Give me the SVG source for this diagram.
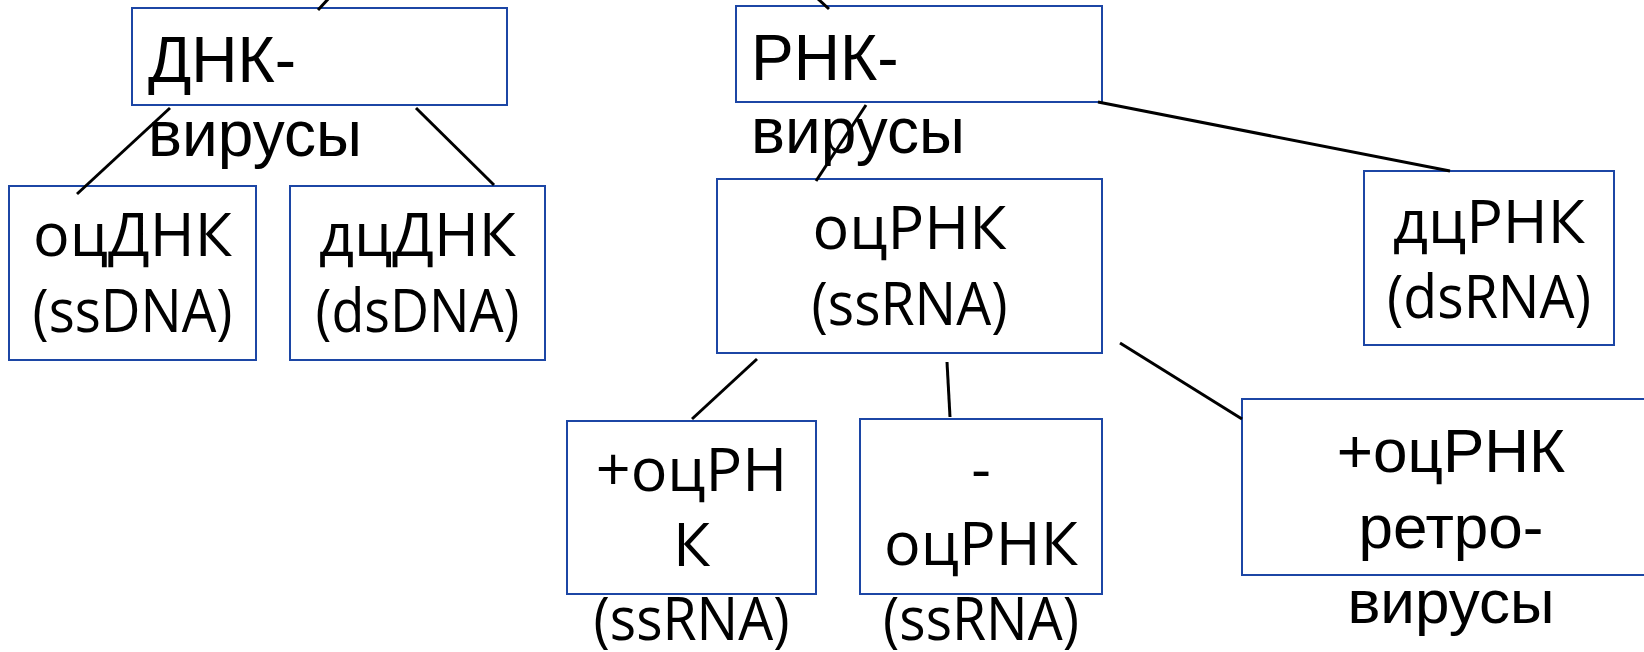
<svg xmlns="http://www.w3.org/2000/svg" width="1644" height="652" viewBox="0 0 1644 652">
<style>
.box{fill:#fff;stroke:#1c46a5;stroke-width:2}
.a{font-family:"Liberation Sans",Arial,sans-serif;font-size:62px;fill:#000}
.h{font-size:64px}
.c{font-family:"Open Sans","Noto Sans",sans-serif;font-size:61px;fill:#000;text-anchor:middle}
.m{text-anchor:middle}
.conn line{stroke:#000;stroke-width:3}
</style>
<rect width="1644" height="652" fill="#fff"/>
<g id="n-dna">
<rect class="box" x="132" y="8" width="375" height="97"/>
<text class="a h" x="148" y="82">ДНК-</text>
<text class="a h" x="148" y="156">вирусы</text>
</g>
<g id="n-ssdna">
<rect class="box" x="9" y="186" width="247" height="174"/>
<text class="c" x="132.5" y="256">оцДНК</text>
<text class="c" x="132.5" y="332" textLength="200" lengthAdjust="spacingAndGlyphs">(ssDNA)</text>
</g>
<g id="n-dsdna">
<rect class="box" x="290" y="186" width="255" height="174"/>
<text class="c" x="417.5" y="256">дцДНК</text>
<text class="c" x="417.5" y="332" textLength="204" lengthAdjust="spacingAndGlyphs">(dsDNA)</text>
</g>
<g id="n-rna">
<rect class="box" x="736" y="6" width="366" height="96"/>
<text class="a h" x="751" y="80">РНК-</text>
<text class="a h" x="751" y="153">вирусы</text>
</g>
<g id="n-ssrna">
<rect class="box" x="717" y="179" width="385" height="174"/>
<text class="c" x="909.5" y="249">оцРНК</text>
<text class="c" x="909.5" y="325" textLength="196" lengthAdjust="spacingAndGlyphs">(ssRNA)</text>
</g>
<g id="n-dsrna">
<rect class="box" x="1364" y="171" width="250" height="174"/>
<text class="c" x="1489" y="243">дцРНК</text>
<text class="c" x="1489" y="318" textLength="204" lengthAdjust="spacingAndGlyphs">(dsRNA)</text>
</g>
<g id="n-plus">
<rect class="box" x="567" y="421" width="249" height="173"/>
<text class="c" x="691.5" y="491">+оцРН</text>
<text class="c" x="691.5" y="566">К</text>
<text class="c" x="691.5" y="640" textLength="196" lengthAdjust="spacingAndGlyphs">(ssRNA)</text>
</g>
<g id="n-minus">
<rect class="box" x="860" y="419" width="242" height="175"/>
<text class="c" x="981" y="490">-</text>
<text class="c" x="981" y="565">оцРНК</text>
<text class="c" x="981" y="640" textLength="196" lengthAdjust="spacingAndGlyphs">(ssRNA)</text>
</g>
<g id="n-retro">
<rect class="box" x="1242" y="399" width="420" height="176"/>
<text class="a m" x="1451" y="472">+оцРНК</text>
<text class="a m" x="1451" y="548">ретро-</text>
<text class="a m" x="1451" y="623">вирусы</text>
</g>
<g class="conn" id="connectors">
<line x1="318" y1="10" x2="330" y2="-3"/>
<line x1="170" y1="108" x2="77" y2="194"/>
<line x1="416" y1="108" x2="494" y2="185"/>
<line x1="817" y1="-2" x2="829" y2="9"/>
<line x1="866" y1="105" x2="816" y2="181"/>
<line x1="1098" y1="102" x2="1450" y2="171"/>
<line x1="757" y1="359" x2="692" y2="419"/>
<line x1="947" y1="362" x2="950" y2="417"/>
<line x1="1120" y1="343" x2="1242" y2="419"/>
</g>
</svg>
